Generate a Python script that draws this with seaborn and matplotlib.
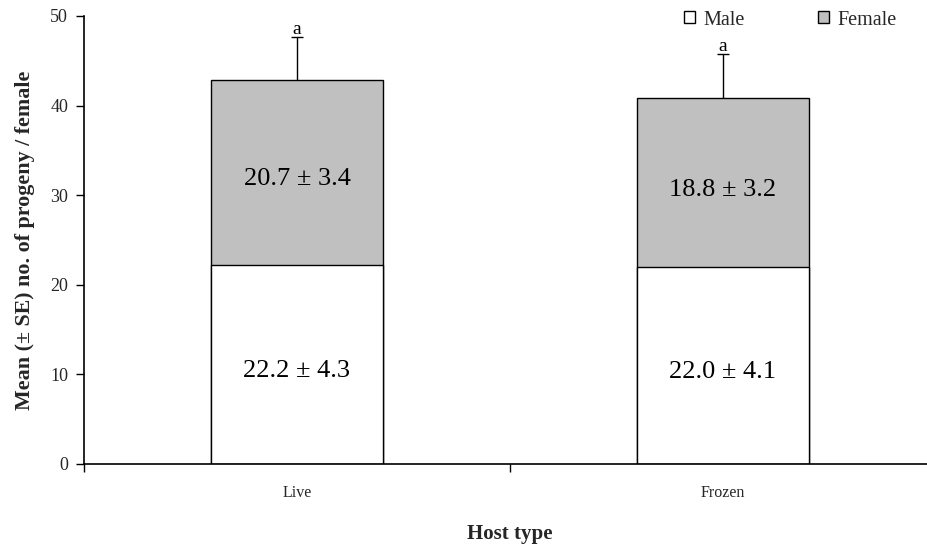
import matplotlib
matplotlib.use("Agg")
import matplotlib.pyplot as plt
from matplotlib.patches import Patch
import seaborn as sns
import pandas as pd
import numpy as np

# ---- data ----
host_types = ["Live", "Frozen"]
male_mean = [22.2, 22.0]
male_se = [4.3, 4.1]
female_mean = [20.7, 18.8]
female_se = [3.4, 3.2]
total_se = [4.8, 5.0]
letters = ["a", "a"]
y_ticks = [0, 10, 20, 30, 40, 50]

sns.set_theme(style="white")
plt.rcParams["font.family"] = ["Liberation Serif", "DejaVu Serif"]

df = pd.DataFrame({
    "host": host_types,
    "male": male_mean,
    "female": female_mean,
})
df["total"] = df["male"] + df["female"]

fig = plt.figure(figsize=(9.28, 5.46), dpi=100)
ax = fig.add_axes([84 / 928, 82 / 546, 852 / 928, 448 / 546])

bar_w = 0.404
sns.barplot(data=df, x="host", y="total", color="#c0c0c0", width=bar_w,
            edgecolor="black", linewidth=1.0, saturation=1, ax=ax)
sns.barplot(data=df, x="host", y="male", color="white", width=bar_w,
            edgecolor="black", linewidth=1.0, saturation=1, ax=ax)

xpos = np.arange(len(host_types))
eb = ax.errorbar(xpos, df["total"], yerr=[np.zeros(len(xpos)), total_se],
                 fmt="none", ecolor="black", elinewidth=1.0, capsize=4, capthick=1.0, zorder=1)
# only the upper cap, as in the reference
eb[1][0].set_visible(False)

for i in range(len(host_types)):
    m = male_mean[i]
    f = female_mean[i]
    ax.annotate(f"{m:.1f} \u00b1 {male_se[i]:.1f}", (xpos[i], m / 2), xytext=(0, -5),
                textcoords="offset points", ha="center", va="center", fontsize=19, color="black")
    ax.annotate(f"{f:.1f} \u00b1 {female_se[i]:.1f}", (xpos[i], m + f / 2), xytext=(0, -5),
                textcoords="offset points", ha="center", va="center", fontsize=19, color="black")
    ax.annotate(letters[i], (xpos[i], m + f + total_se[i]), xytext=(0, -1),
                textcoords="offset points", ha="center", va="bottom", fontsize=14, color="black")

ax.set_xlim(-0.5, 1.5)
ax.set_ylim(0, 50)
ax.set_yticks(y_ticks)
ax.set_yticklabels([str(t) for t in y_ticks], fontsize=13)

ax.set_xticks([-0.5, 0.5, 1.5])
ax.set_xticklabels(["", "", ""])
ax.set_xticks(xpos, minor=True)
ax.set_xticklabels(host_types, minor=True, fontsize=11.5)
ax.tick_params(axis="x", which="minor", length=0, pad=15)
ax.tick_params(axis="x", which="major", length=6, width=1, color="black", direction="out", bottom=True)
ax.tick_params(axis="y", length=6, width=1, color="black", direction="out", left=True, pad=5.5)

for s in ["top", "right"]:
    ax.spines[s].set_visible(False)
for s in ["left", "bottom"]:
    ax.spines[s].set_color("black")
    ax.spines[s].set_linewidth(1.2)

ax.set_xlabel("Host type", fontsize=15, fontweight="bold", labelpad=17)
ax.set_ylabel("Mean (\u00b1 SE) no. of progeny / female", fontsize=15.8, fontweight="bold", labelpad=11)

handles = [Patch(facecolor="white", edgecolor="black", linewidth=1.0),
           Patch(facecolor="#c0c0c0", edgecolor="black", linewidth=1.0)]
ax.legend(handles, ["Male", "Female"], ncol=2, frameon=False, loc="center",
          bbox_to_anchor=(0.829, 0.991), fontsize=14.5, handlelength=0.55, handleheight=0.55,
          handletextpad=0.45, columnspacing=3.6, borderaxespad=0)

fig.savefig("out.png", dpi=100, facecolor="white")
